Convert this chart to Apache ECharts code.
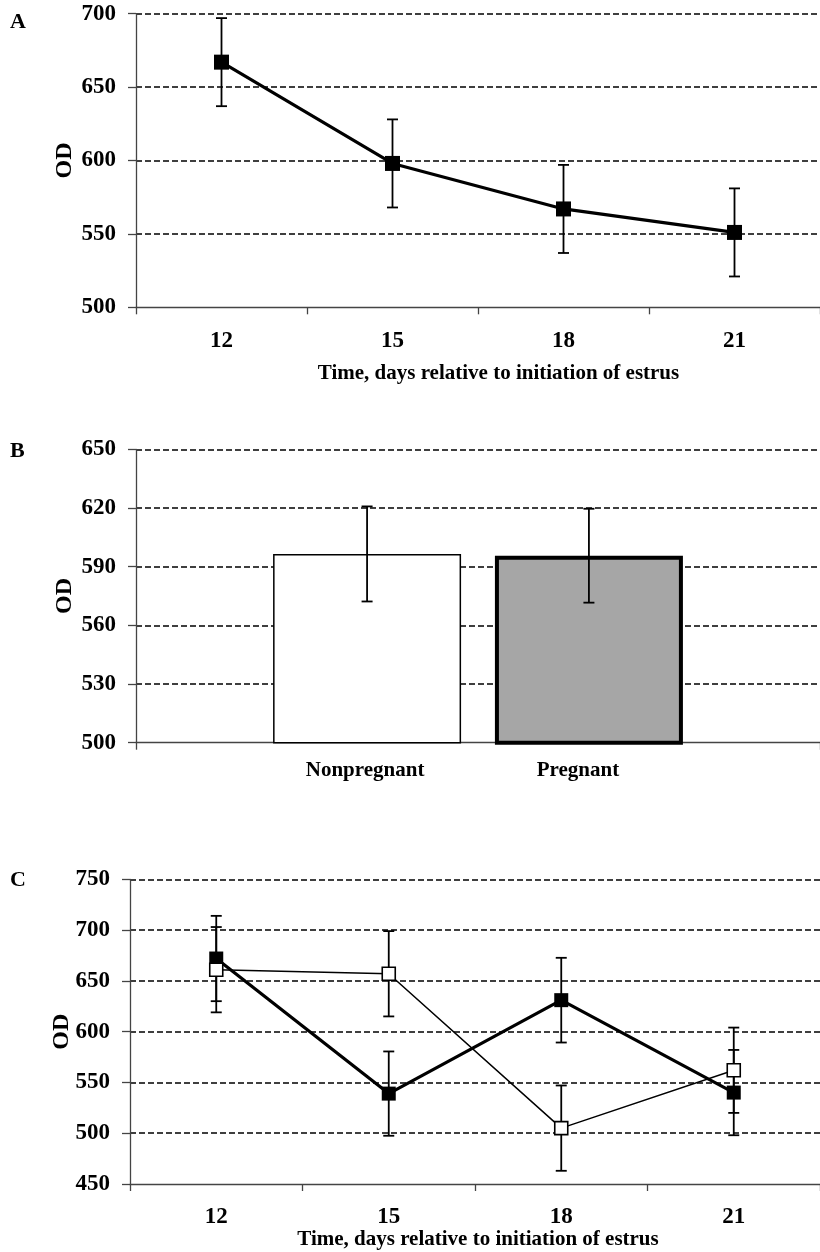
<!DOCTYPE html>
<html>
<head>
<meta charset="utf-8">
<script src="https://cdn.jsdelivr.net/npm/echarts@6/dist/echarts.min.js"></script>
<style>
  html, body { margin: 0; padding: 0; background: #fff; }
  #chart { width: 820px; height: 1252px; }
</style>
</head>
<body>
<div id="chart"></div>
<script>
// ---------- DATA ----------
const panelLabels = ['A', 'B', 'C'];
const yName = 'OD';
const xName = 'Time, days relative to initiation of estrus';

// Panel A
const aDays = ['12', '15', '18', '21'];
const aMeans = [667, 598, 567, 551];
const aErrors = [30, 30, 30, 30];
const aYAxis = [500, 700, 50]; // min, max, interval

// Panel B
const bGroups = ['Nonpregnant', 'Pregnant'];
const bMeans = [596.5, 595.6];
const bErrors = [24.3, 24];
const bYAxis = [500, 650, 30];

// Panel C
const cDays = ['12', '15', '18', '21'];
const cFilledMeans = [672, 539, 631, 540];
const cFilledErrors = [42, 41.5, 41.7, 42];
const cOpenMeans = [661, 657, 505, 562];
const cOpenErrors = [42, 42, 42, 42];
const cYAxis = [450, 750, 50];

// ---------- STYLE ----------
const FONT = 'Liberation Serif';
const AXIS_COLOR = '#444';
const BAR_W = 188;
const BAR_GAP_PCT = 18;

function errData(means, errs) {
  return means.map((m, i) => [i, m - errs[i], m + errs[i]]);
}

function makeErrRender(offsetFn) {
  return function (params, api) {
    const idx = api.value(0);
    const lo = api.coord([idx, api.value(1)]);
    const hi = api.coord([idx, api.value(2)]);
    const off = offsetFn ? offsetFn(api) : 0;
    const x = lo[0] + off;
    const cap = 5.5;
    const st = { stroke: '#000', lineWidth: 1.8 };
    return {
      type: 'group',
      children: [
        { type: 'line', shape: { x1: x, y1: hi[1], x2: x, y2: lo[1] }, style: st },
        { type: 'line', shape: { x1: x - cap, y1: hi[1], x2: x + cap, y2: hi[1] }, style: st },
        { type: 'line', shape: { x1: x - cap, y1: lo[1], x2: x + cap, y2: lo[1] }, style: st }
      ]
    };
  };
}

function yAxisCfg(gridIndex, range, nameGap) {
  return {
    type: 'value', gridIndex: gridIndex,
    min: range[0], max: range[1], interval: range[2],
    name: yName, nameLocation: 'middle', nameGap: nameGap, nameMoveOverlap: false,
    nameTextStyle: { fontFamily: FONT, fontWeight: 'bold', fontSize: 24, color: '#000' },
    axisLine: { show: true, lineStyle: { color: AXIS_COLOR, width: 1.3 } },
    axisTick: { show: true, length: 8, lineStyle: { color: AXIS_COLOR, width: 1.3 } },
    axisLabel: { margin: 20, fontFamily: FONT, fontWeight: 'bold', fontSize: 23, color: '#000' },
    splitLine: { show: true, showMinLine: false, lineStyle: { color: '#000', width: 1.5, type: [6, 3] } }
  };
}

function xAxisCfg(gridIndex, data, name, nameGap, namePad) {
  return {
    type: 'category', gridIndex: gridIndex, data: data,
    name: name, nameLocation: 'middle', nameGap: nameGap, nameMoveOverlap: false,
    nameTextStyle: { fontFamily: FONT, fontWeight: 'bold', fontSize: 21, color: '#000', padding: namePad },
    axisLine: { show: true, lineStyle: { color: AXIS_COLOR, width: 1.3 } },
    axisTick: { show: true, length: 7, lineStyle: { color: AXIS_COLOR, width: 1.3 } },
    axisLabel: { show: data.some(d => d !== ''), margin: 22, fontFamily: FONT, fontWeight: 'bold', fontSize: 23, color: '#000' },
    splitLine: { show: false }
  };
}

const chart = echarts.init(document.getElementById('chart'), null, { renderer: 'canvas' });

const option = {
  animation: false,
  backgroundColor: '#fff',
  grid: [
    { left: 136, top: 13.7, width: 691, height: 293.6 },
    { left: 136, top: 449.3, width: 691, height: 293.4 },
    { left: 130, top: 879.3, width: 698, height: 304.7 }
  ],
  xAxis: [
    xAxisCfg(0, aDays, xName, 56, [0, 0, 0, 41]),
    xAxisCfg(1, [''], '', 0, 0),
    xAxisCfg(2, cDays, xName, 45, [0, 0, 0, 6])
  ],
  yAxis: [
    yAxisCfg(0, aYAxis, 59),
    yAxisCfg(1, bYAxis, 59),
    yAxisCfg(2, cYAxis, 56)
  ],
  graphic: panelLabels.map((t, i) => ({
    type: 'text', left: 10, top: [11, 440, 869][i],
    style: { text: t, font: 'bold 22px "' + FONT + '"', fill: '#000' }
  })),
  series: [
    // Panel A
    {
      type: 'custom', xAxisIndex: 0, yAxisIndex: 0, z: 3,
      renderItem: makeErrRender(null), data: errData(aMeans, aErrors)
    },
    {
      type: 'line', xAxisIndex: 0, yAxisIndex: 0, z: 4, data: aMeans,
      symbol: 'rect', symbolSize: 15,
      itemStyle: { color: '#000' }, lineStyle: { color: '#000', width: 3.2 },
      emphasis: { disabled: true }
    },
    // Panel B
    {
      type: 'bar', name: bGroups[0], xAxisIndex: 1, yAxisIndex: 1, z: 2,
      data: [bMeans[0]], barWidth: BAR_W, barGap: BAR_GAP_PCT + '%',
      itemStyle: { color: '#fff', borderColor: '#000', borderWidth: 1.5 },
      label: { show: true, position: 'bottom', distance: 17, offset: [-2, 0],
        formatter: bGroups[0], fontFamily: FONT, fontWeight: 'bold', fontSize: 21, color: '#000' },
      emphasis: { disabled: true }
    },
    {
      type: 'bar', name: bGroups[1], xAxisIndex: 1, yAxisIndex: 1, z: 2,
      data: [bMeans[1]], barWidth: BAR_W, barGap: BAR_GAP_PCT + '%',
      itemStyle: { color: '#a6a6a6', borderColor: '#000', borderWidth: 4 },
      label: { show: true, position: 'bottom', distance: 15, offset: [-11, 0],
        formatter: bGroups[1], fontFamily: FONT, fontWeight: 'bold', fontSize: 21, color: '#000' },
      emphasis: { disabled: true }
    },
    {
      type: 'custom', xAxisIndex: 1, yAxisIndex: 1, z: 5,
      renderItem: makeErrRender(() => -(BAR_W + BAR_W * BAR_GAP_PCT / 100) / 2),
      data: [[0, bMeans[0] - bErrors[0], bMeans[0] + bErrors[0]]]
    },
    {
      type: 'custom', xAxisIndex: 1, yAxisIndex: 1, z: 5,
      renderItem: makeErrRender(() => (BAR_W + BAR_W * BAR_GAP_PCT / 100) / 2),
      data: [[0, bMeans[1] - bErrors[1], bMeans[1] + bErrors[1]]]
    },
    // Panel C
    {
      type: 'custom', xAxisIndex: 2, yAxisIndex: 2, z: 3,
      renderItem: makeErrRender(null), data: errData(cFilledMeans, cFilledErrors)
    },
    {
      type: 'custom', xAxisIndex: 2, yAxisIndex: 2, z: 3,
      renderItem: makeErrRender(null), data: errData(cOpenMeans, cOpenErrors)
    },
    {
      type: 'line', xAxisIndex: 2, yAxisIndex: 2, z: 4, data: cFilledMeans,
      symbol: 'rect', symbolSize: 14,
      itemStyle: { color: '#000' }, lineStyle: { color: '#000', width: 3.2 },
      emphasis: { disabled: true }
    },
    {
      type: 'line', xAxisIndex: 2, yAxisIndex: 2, z: 5, data: cOpenMeans,
      symbol: 'rect', symbolSize: 13,
      itemStyle: { color: '#fff', borderColor: '#000', borderWidth: 1.6 },
      lineStyle: { color: '#000', width: 1.5 },
      emphasis: { disabled: true }
    }
  ]
};

chart.setOption(option);
</script>
</body>
</html>
